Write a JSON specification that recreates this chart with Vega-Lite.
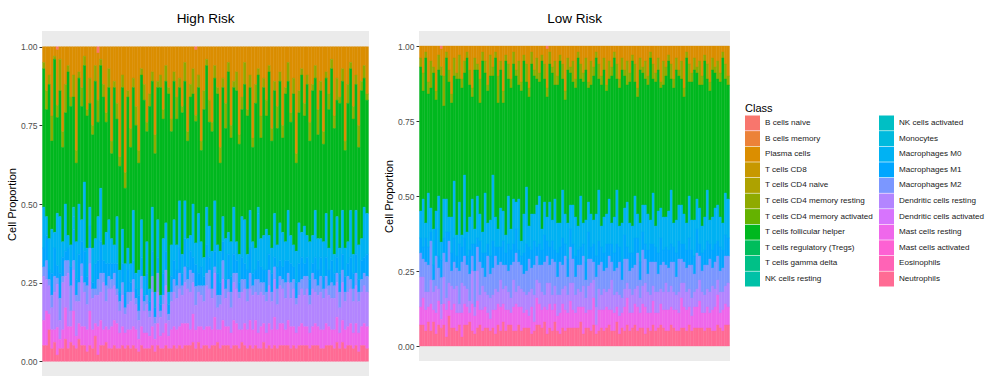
{
"$schema": "https://vega.github.io/schema/vega-lite/v6.json",
"padding": {"left": 6, "top": 11, "right": 2, "bottom": 0},
"spacing": 14,
"config": {
 "font": "Liberation Sans",
 "view": {"fill": "#EBEBEB", "stroke": null},
 "axis": {"grid": false, "domain": false, "tickColor": "#333333", "tickSize": 3, "labelPadding": 2, "labelFontSize": 8.5, "labelColor": "#4D4D4D", "titleFontSize": 11, "titleFontWeight": "normal", "titleColor": "#000000", "titlePadding": 3},
 "title": {"fontSize": 13.5, "fontWeight": "normal", "color": "#000000", "anchor": "middle", "frame": "group", "offset": 6},
 "legend": {"columns": 2, "symbolType": "square", "symbolSize": 225, "symbolStrokeWidth": 0, "symbolOpacity": 1, "rowPadding": 0.6, "columnPadding": 6, "labelFontSize": 8.1, "labelColor": "#1A1A1A", "labelOffset": 5, "labelLimit": 200, "titleFontSize": 11, "titleFontWeight": "normal", "titleColor": "#000000", "titlePadding": 1.5, "padding": 0}
},
"datasets": {
 "cls": [
  {"k":"a","name":"B cells naive","ord":0},
  {"k":"c","name":"Plasma cells","ord":2},
  {"k":"f","name":"T cells CD4 memory resting","ord":5},
  {"k":"h","name":"T cells follicular helper","ord":7},
  {"k":"m","name":"Monocytes","ord":12},
  {"k":"n","name":"Macrophages M0","ord":13},
  {"k":"o","name":"Macrophages M1","ord":14},
  {"k":"p","name":"Macrophages M2","ord":15},
  {"k":"q","name":"Dendritic cells resting","ord":16},
  {"k":"s","name":"Mast cells resting","ord":18},
  {"k":"v","name":"Neutrophils","ord":21}
 ],
 "hi": [
  {"id":1,"c":5,"f":2,"h":44,"n":13,"o":6,"p":3,"q":14,"s":8,"v":5},
  {"id":2,"c":14,"f":6,"h":34,"n":6,"o":8,"p":6,"q":10,"s":11,"v":5},
  {"id":3,"c":9,"f":3,"h":49,"n":10,"o":3,"p":2,"q":9,"s":5,"v":10},
  {"id":4,"c":22,"f":8,"h":28,"n":14,"o":7,"p":4,"q":7,"s":6,"v":4},
  {"id":5,"c":3,"f":1,"h":55,"n":5,"o":9,"p":5,"q":12,"s":4,"v":6},
  {"id":6,"a":1,"c":18,"f":4,"h":31,"n":17,"o":4,"p":2,"q":14,"s":9,"v":2},
  {"id":7,"c":4,"f":10,"h":40,"n":18,"o":8,"p":7,"q":6,"s":3,"v":4},
  {"id":8,"c":27,"f":5,"h":30,"n":5,"o":6,"p":2,"q":15,"s":6,"v":4},
  {"id":9,"c":12,"f":9,"h":29,"n":15,"o":3,"p":5,"q":10,"s":10,"v":7},
  {"id":10,"c":6,"f":2,"h":52,"n":4,"o":4,"p":4,"q":17,"s":7,"v":4},
  {"id":11,"c":16,"f":3,"h":44,"n":7,"o":6,"p":8,"q":5,"s":5,"v":6},
  {"id":12,"c":9,"f":7,"h":35,"m":3,"n":4,"o":10,"p":3,"q":13,"s":11,"v":5},
  {"id":13,"c":33,"f":4,"h":25,"n":12,"o":5,"p":2,"q":11,"s":4,"v":4},
  {"id":14,"c":8,"f":2,"h":40,"n":16,"o":9,"p":6,"q":7,"s":5,"v":7},
  {"id":15,"c":13,"f":6,"h":36,"n":7,"o":7,"p":4,"q":16,"s":6,"v":5},
  {"id":16,"c":3,"f":3,"h":37,"n":22,"o":10,"p":3,"q":11,"s":6,"v":5},
  {"id":17,"c":20,"f":2,"h":42,"n":9,"o":3,"p":6,"q":8,"s":7,"v":3},
  {"id":18,"c":10,"f":8,"h":33,"n":6,"o":7,"p":5,"q":15,"s":11,"v":5},
  {"id":19,"c":25,"f":3,"h":36,"n":11,"o":2,"p":3,"q":10,"s":6,"v":4},
  {"id":20,"c":6,"f":5,"h":50,"n":8,"o":8,"p":2,"q":9,"s":4,"v":8},
  {"id":21,"a":2,"c":15,"f":7,"h":30,"n":14,"o":6,"p":5,"q":10,"s":9,"v":2},
  {"id":22,"c":4,"f":2,"h":39,"n":17,"o":10,"p":6,"q":9,"s":8,"v":5},
  {"id":23,"c":12,"f":4,"h":47,"n":5,"o":4,"p":3,"q":15,"s":5,"v":5},
  {"id":24,"c":21,"f":3,"h":35,"n":10,"o":7,"p":5,"q":8,"s":5,"v":6},
  {"id":25,"c":7,"f":6,"h":42,"n":14,"o":4,"p":4,"q":13,"s":6,"v":4},
  {"id":26,"c":30,"f":4,"h":27,"n":8,"o":5,"p":3,"q":12,"s":7,"v":4},
  {"id":27,"c":11,"f":2,"h":50,"n":6,"o":3,"p":4,"q":11,"s":8,"v":5},
  {"id":28,"c":18,"f":5,"h":31,"n":15,"o":8,"p":2,"q":9,"s":8,"v":4},
  {"id":29,"c":35,"f":3,"h":33,"n":7,"o":3,"p":3,"q":7,"s":5,"v":4},
  {"id":30,"c":9,"f":4,"h":45,"n":11,"o":6,"p":4,"q":10,"s":6,"v":5},
  {"id":31,"c":40,"f":5,"h":24,"n":9,"o":5,"p":2,"q":6,"s":5,"v":4},
  {"id":32,"c":14,"f":2,"h":48,"n":7,"o":7,"p":4,"q":8,"s":5,"v":5},
  {"id":33,"c":26,"f":6,"h":37,"n":6,"o":3,"p":3,"q":9,"s":6,"v":4},
  {"id":34,"c":10,"f":3,"h":39,"n":16,"o":6,"p":4,"q":11,"s":6,"v":5},
  {"id":35,"c":19,"f":6,"h":47,"n":5,"o":3,"p":2,"q":8,"s":6,"v":4},
  {"id":36,"c":33,"f":4,"h":34,"n":8,"o":5,"p":3,"q":6,"s":4,"v":3},
  {"id":37,"c":7,"f":2,"h":46,"n":12,"o":6,"p":4,"q":12,"s":6,"v":5},
  {"id":38,"c":12,"f":5,"h":56,"n":6,"o":2,"p":3,"q":7,"s":5,"v":4},
  {"id":39,"c":24,"f":3,"h":35,"n":10,"o":7,"p":3,"q":9,"s":5,"v":4},
  {"id":40,"c":15,"f":4,"h":58,"n":4,"o":3,"p":2,"q":6,"s":4,"v":4},
  {"id":41,"c":8,"f":3,"h":40,"n":14,"o":8,"p":5,"q":11,"s":6,"v":5},
  {"id":42,"c":28,"f":6,"h":44,"n":5,"o":3,"p":2,"q":5,"s":4,"v":3},
  {"id":43,"c":11,"f":2,"h":42,"n":12,"o":5,"p":6,"q":10,"s":7,"v":5},
  {"id":44,"c":9,"f":4,"h":66,"n":3,"o":2,"p":2,"q":6,"s":4,"v":4},
  {"id":45,"c":20,"f":3,"h":38,"n":11,"o":7,"p":3,"q":9,"s":5,"v":4},
  {"id":46,"c":6,"f":5,"h":45,"n":9,"o":6,"p":5,"q":12,"s":7,"v":5},
  {"id":47,"c":13,"f":2,"h":63,"n":4,"o":3,"p":2,"q":5,"s":4,"v":4},
  {"id":48,"c":23,"f":4,"h":36,"n":10,"o":5,"p":3,"q":9,"s":6,"v":4},
  {"id":49,"c":8,"f":3,"h":44,"n":13,"o":6,"p":4,"q":11,"s":6,"v":5},
  {"id":50,"c":16,"f":7,"h":40,"n":8,"o":5,"p":4,"q":10,"s":6,"v":4},
  {"id":51,"c":10,"f":3,"h":36,"n":15,"o":8,"p":5,"q":12,"s":6,"v":5},
  {"id":52,"c":19,"f":2,"h":45,"n":6,"o":4,"p":3,"q":9,"s":8,"v":4},
  {"id":53,"c":5,"f":6,"h":38,"n":12,"o":9,"p":5,"q":13,"s":7,"v":5},
  {"id":54,"c":27,"f":3,"h":31,"n":9,"o":4,"p":3,"q":11,"s":7,"v":5},
  {"id":55,"c":12,"f":4,"h":44,"n":5,"o":6,"p":7,"q":12,"s":5,"v":5},
  {"id":56,"c":7,"f":8,"h":35,"n":17,"o":5,"p":3,"q":10,"s":9,"v":6},
  {"id":57,"a":1,"c":21,"f":2,"h":39,"n":7,"o":7,"p":6,"q":8,"s":6,"v":4},
  {"id":58,"c":9,"f":4,"h":40,"n":19,"o":4,"p":2,"q":11,"s":5,"v":6},
  {"id":59,"c":30,"f":3,"h":29,"n":8,"o":6,"p":3,"q":10,"s":7,"v":4},
  {"id":60,"c":14,"f":6,"h":47,"n":6,"o":3,"p":5,"q":9,"s":5,"v":5},
  {"id":61,"c":4,"f":2,"h":45,"n":12,"o":9,"p":4,"q":13,"s":6,"v":5},
  {"id":62,"c":17,"f":7,"h":33,"n":10,"o":4,"p":6,"q":12,"s":7,"v":4},
  {"id":63,"c":24,"f":3,"h":38,"n":6,"o":6,"p":3,"q":10,"s":5,"v":5},
  {"id":64,"c":6,"f":4,"h":39,"n":16,"o":5,"p":2,"q":14,"s":9,"v":5},
  {"id":65,"c":13,"f":2,"h":48,"n":9,"o":7,"p":4,"q":7,"s":4,"v":6},
  {"id":66,"c":32,"f":5,"h":28,"n":10,"o":4,"p":3,"q":8,"s":6,"v":4},
  {"id":67,"c":10,"f":3,"h":41,"n":8,"o":6,"p":6,"q":13,"s":8,"v":5},
  {"id":68,"c":18,"f":8,"h":35,"n":13,"o":3,"p":3,"q":9,"s":6,"v":5},
  {"id":69,"c":5,"f":3,"h":51,"n":7,"o":8,"p":4,"q":11,"s":6,"v":5},
  {"id":70,"c":25,"f":4,"h":33,"n":11,"o":5,"p":5,"q":8,"s":5,"v":4},
  {"id":71,"c":11,"f":2,"h":38,"n":15,"o":6,"p":3,"q":12,"s":8,"v":5},
  {"id":72,"c":8,"f":6,"h":48,"n":6,"o":4,"p":5,"q":11,"s":7,"v":5},
  {"id":73,"c":28,"f":3,"h":35,"n":9,"o":3,"p":2,"q":10,"s":6,"v":4},
  {"id":74,"c":16,"f":4,"h":34,"n":13,"o":7,"p":4,"q":12,"s":4,"v":6},
  {"id":75,"c":5,"f":7,"h":43,"n":14,"o":5,"p":3,"q":11,"s":7,"v":5},
  {"id":76,"c":20,"f":2,"h":44,"n":5,"o":6,"p":4,"q":9,"s":6,"v":4},
  {"id":77,"c":9,"f":4,"h":39,"n":12,"o":8,"p":5,"q":10,"s":8,"v":5},
  {"id":78,"c":29,"f":3,"h":30,"n":10,"o":4,"p":3,"q":11,"s":6,"v":4},
  {"id":79,"c":12,"f":6,"h":46,"n":7,"o":3,"p":4,"q":9,"s":8,"v":5},
  {"id":80,"c":7,"f":2,"h":42,"m":2,"n":15,"o":6,"p":5,"q":12,"s":5,"v":4},
  {"id":81,"c":22,"f":7,"h":32,"n":9,"o":5,"p":3,"q":11,"s":7,"v":4},
  {"id":82,"c":10,"f":3,"h":47,"n":11,"o":4,"p":4,"q":9,"s":6,"v":6},
  {"id":83,"c":17,"f":5,"h":36,"n":13,"o":7,"p":3,"q":10,"s":5,"v":4},
  {"id":84,"c":6,"f":2,"h":52,"n":6,"o":5,"p":5,"q":12,"s":7,"v":5},
  {"id":85,"c":26,"f":4,"h":34,"n":8,"o":6,"p":3,"q":9,"s":6,"v":4},
  {"id":86,"c":11,"f":3,"h":39,"n":14,"o":3,"p":4,"q":12,"s":9,"v":5},
  {"id":87,"c":19,"f":7,"h":37,"n":7,"o":7,"p":5,"q":8,"s":6,"v":4},
  {"id":88,"c":8,"f":3,"h":45,"n":12,"o":5,"p":3,"q":12,"s":7,"v":5},
  {"id":89,"c":25,"f":4,"h":30,"n":11,"o":4,"p":3,"q":11,"s":7,"v":5},
  {"id":90,"c":13,"f":2,"h":47,"n":6,"o":7,"p":5,"q":10,"s":5,"v":5},
  {"id":91,"c":5,"f":6,"h":41,"n":16,"o":4,"p":3,"q":12,"s":8,"v":5},
  {"id":92,"c":21,"f":3,"h":36,"n":9,"o":6,"p":5,"q":9,"s":7,"v":4},
  {"id":93,"c":10,"f":5,"h":48,"n":7,"o":4,"p":3,"q":12,"s":6,"v":5},
  {"id":94,"c":34,"f":3,"h":28,"n":10,"o":5,"p":2,"q":9,"s":5,"v":4},
  {"id":95,"c":14,"f":7,"h":35,"n":13,"o":6,"p":4,"q":10,"s":6,"v":5},
  {"id":96,"c":7,"f":2,"h":50,"n":8,"o":7,"p":3,"q":11,"s":7,"v":5},
  {"id":97,"c":18,"f":4,"h":35,"n":12,"o":4,"p":6,"q":10,"s":6,"v":5},
  {"id":98,"c":9,"f":3,"h":48,"n":7,"o":6,"p":4,"q":12,"s":6,"v":5},
  {"id":99,"c":24,"f":6,"h":32,"n":12,"o":5,"p":3,"q":9,"s":5,"v":4},
  {"id":100,"c":12,"f":2,"h":46,"n":9,"o":3,"p":5,"q":12,"s":6,"v":5},
  {"id":101,"c":6,"f":4,"h":42,"n":15,"o":7,"p":4,"q":10,"s":7,"v":5},
  {"id":102,"c":20,"f":8,"h":33,"n":10,"o":5,"p":3,"q":10,"s":6,"v":5},
  {"id":103,"c":11,"f":3,"h":47,"n":6,"o":6,"p":5,"q":12,"s":6,"v":4},
  {"id":104,"c":27,"f":4,"h":31,"n":11,"o":4,"p":3,"q":10,"s":6,"v":4},
  {"id":105,"c":8,"f":2,"h":43,"n":14,"o":6,"p":4,"q":11,"s":7,"v":5},
  {"id":106,"c":15,"f":5,"h":44,"n":7,"o":5,"p":3,"q":10,"s":6,"v":5},
  {"id":107,"c":4,"f":3,"h":45,"n":16,"o":7,"p":5,"q":10,"s":5,"v":5},
  {"id":108,"c":22,"f":4,"h":40,"n":6,"o":4,"p":4,"q":10,"s":6,"v":4},
  {"id":109,"c":10,"f":7,"h":37,"n":13,"o":5,"p":3,"q":11,"s":8,"v":6},
  {"id":110,"c":16,"f":2,"h":46,"n":8,"o":6,"p":5,"q":8,"s":5,"v":4},
  {"id":111,"c":7,"f":4,"h":41,"n":14,"o":5,"p":4,"q":12,"s":7,"v":6},
  {"id":112,"c":30,"f":3,"h":31,"n":9,"o":5,"p":3,"q":9,"s":6,"v":4},
  {"id":113,"c":12,"f":6,"h":44,"n":7,"o":4,"p":5,"q":11,"s":6,"v":5},
  {"id":114,"c":5,"f":2,"h":45,"n":15,"o":7,"p":3,"q":11,"s":7,"v":5},
  {"id":115,"c":19,"f":4,"h":43,"n":6,"o":5,"p":4,"q":10,"s":5,"v":4},
  {"id":116,"c":9,"f":3,"h":40,"n":14,"o":6,"p":4,"q":12,"s":7,"v":5},
  {"id":117,"c":25,"f":7,"h":31,"n":11,"o":4,"p":3,"q":10,"s":6,"v":3},
  {"id":118,"c":11,"f":3,"h":47,"n":7,"o":6,"p":4,"q":11,"s":6,"v":5},
  {"id":119,"c":6,"f":4,"h":41,"n":16,"o":5,"p":4,"q":12,"s":7,"v":5},
  {"id":120,"c":15,"f":2,"h":36,"n":13,"o":7,"p":5,"q":11,"s":7,"v":4}
 ],
 "lo": [
  {"id":1,"c":4,"f":3,"h":48,"n":9,"o":5,"p":8,"q":10,"s":6,"v":7},
  {"id":2,"c":9,"f":6,"h":36,"n":16,"o":4,"p":6,"q":7,"s":9,"v":7},
  {"id":3,"c":2,"f":2,"h":55,"n":5,"o":8,"p":10,"q":6,"s":7,"v":5},
  {"id":4,"c":12,"f":4,"h":33,"n":18,"o":6,"p":9,"q":5,"s":5,"v":8},
  {"id":5,"c":5,"f":9,"h":40,"n":8,"o":3,"p":13,"q":8,"s":9,"v":5},
  {"id":6,"c":7,"f":2,"h":52,"n":12,"o":5,"p":4,"q":6,"s":4,"v":8},
  {"id":7,"c":15,"f":3,"h":37,"n":6,"o":9,"p":10,"q":9,"s":7,"v":4},
  {"id":8,"c":3,"f":5,"h":42,"n":20,"o":4,"p":7,"q":4,"s":8,"v":7},
  {"id":9,"a":1,"c":6,"f":3,"h":56,"n":6,"o":6,"p":9,"q":5,"s":3,"v":6},
  {"id":10,"c":10,"f":10,"h":31,"n":13,"o":5,"p":8,"q":9,"s":7,"v":7},
  {"id":11,"c":2,"f":2,"h":47,"n":11,"o":10,"p":12,"q":4,"s":9,"v":3},
  {"id":12,"c":8,"f":4,"h":45,"n":5,"o":3,"p":14,"q":6,"s":5,"v":10},
  {"id":13,"c":16,"f":3,"h":38,"n":12,"o":6,"p":5,"q":8,"s":6,"v":6},
  {"id":14,"c":4,"f":6,"h":35,"n":19,"o":8,"p":9,"q":5,"s":8,"v":6},
  {"id":15,"c":9,"f":2,"h":52,"n":7,"o":4,"p":6,"q":9,"s":6,"v":5},
  {"id":16,"c":3,"f":8,"h":41,"n":14,"o":9,"p":11,"q":3,"s":4,"v":7},
  {"id":17,"c":11,"f":3,"h":49,"n":4,"o":5,"p":7,"q":10,"s":8,"v":3},
  {"id":18,"c":5,"f":4,"h":34,"n":21,"o":6,"p":10,"q":6,"s":7,"v":7},
  {"id":19,"c":2,"f":2,"h":58,"n":8,"o":3,"p":8,"q":6,"s":6,"v":7},
  {"id":20,"c":8,"f":5,"h":44,"n":11,"o":8,"p":9,"q":4,"s":3,"v":8},
  {"id":21,"c":14,"f":3,"h":34,"n":15,"o":4,"p":5,"q":11,"s":9,"v":5},
  {"id":22,"c":4,"f":4,"h":53,"n":5,"o":9,"p":12,"q":3,"s":6,"v":4},
  {"id":23,"c":6,"f":2,"h":42,"n":14,"o":3,"p":8,"q":10,"s":9,"v":6},
  {"id":24,"c":11,"f":8,"h":37,"n":9,"o":7,"p":11,"q":5,"s":5,"v":7},
  {"id":25,"c":2,"f":3,"h":57,"n":7,"o":5,"p":6,"q":8,"s":7,"v":5},
  {"id":26,"c":5,"f":4,"h":40,"n":20,"o":8,"p":5,"q":5,"s":7,"v":6},
  {"id":27,"c":13,"f":2,"h":44,"n":7,"o":4,"p":13,"q":6,"s":5,"v":6},
  {"id":28,"c":3,"f":7,"h":48,"n":12,"o":6,"p":8,"q":7,"s":4,"v":5},
  {"id":29,"c":7,"f":3,"h":33,"n":22,"o":9,"p":9,"q":5,"s":6,"v":6},
  {"id":30,"c":2,"f":2,"h":53,"n":10,"o":3,"p":11,"q":7,"s":8,"v":4},
  {"id":31,"c":10,"f":9,"h":42,"n":6,"o":6,"p":9,"q":4,"s":7,"v":7},
  {"id":32,"c":5,"f":3,"h":46,"n":13,"o":5,"p":6,"q":9,"s":8,"v":5},
  {"id":33,"c":15,"f":4,"h":36,"n":10,"o":8,"p":8,"q":5,"s":6,"v":8},
  {"id":34,"c":3,"f":2,"h":58,"n":6,"o":4,"p":7,"q":8,"s":7,"v":5},
  {"id":35,"c":6,"f":5,"h":39,"n":16,"o":9,"p":7,"q":6,"s":5,"v":7},
  {"id":36,"c":11,"f":3,"h":47,"n":7,"o":5,"p":11,"q":5,"s":4,"v":7},
  {"id":37,"c":2,"f":4,"h":45,"n":15,"o":6,"p":6,"q":9,"s":8,"v":5},
  {"id":38,"c":8,"f":2,"h":42,"n":9,"o":8,"p":13,"q":4,"s":9,"v":5},
  {"id":39,"c":5,"f":8,"h":38,"n":17,"o":4,"p":8,"q":7,"s":6,"v":7},
  {"id":40,"c":12,"f":3,"h":50,"n":5,"o":3,"p":8,"q":6,"s":8,"v":5},
  {"id":41,"c":3,"f":2,"h":51,"n":13,"o":7,"p":6,"q":7,"s":5,"v":6},
  {"id":42,"c":6,"f":6,"h":35,"n":19,"o":9,"p":8,"q":5,"s":6,"v":6},
  {"id":43,"c":14,"f":3,"h":43,"n":7,"o":4,"p":11,"q":8,"s":4,"v":6},
  {"id":44,"c":2,"f":4,"h":50,"n":12,"o":6,"p":7,"q":6,"s":9,"v":4},
  {"id":45,"c":8,"f":2,"h":46,"n":9,"o":8,"p":10,"q":9,"s":3,"v":5},
  {"id":46,"c":4,"f":7,"h":42,"n":14,"o":3,"p":8,"q":6,"s":9,"v":7},
  {"id":47,"c":9,"f":3,"h":38,"n":16,"o":7,"p":6,"q":7,"s":7,"v":7},
  {"id":48,"c":3,"f":2,"h":56,"n":7,"o":5,"p":9,"q":6,"s":6,"v":6},
  {"id":49,"c":6,"f":5,"h":41,"n":11,"o":9,"p":11,"q":4,"s":5,"v":8},
  {"id":50,"a":1,"c":13,"f":3,"h":40,"n":8,"o":5,"p":9,"q":9,"s":8,"v":4},
  {"id":51,"c":2,"f":4,"h":46,"n":15,"o":6,"p":6,"q":7,"s":8,"v":6},
  {"id":52,"c":7,"f":2,"h":49,"n":7,"o":6,"p":12,"q":5,"s":7,"v":5},
  {"id":53,"c":5,"f":8,"h":38,"n":17,"o":4,"p":8,"q":6,"s":6,"v":8},
  {"id":54,"c":10,"f":3,"h":46,"n":10,"o":8,"p":6,"q":7,"s":5,"v":5},
  {"id":55,"c":3,"f":2,"h":54,"n":8,"o":5,"p":11,"q":6,"s":7,"v":4},
  {"id":56,"c":6,"f":5,"h":37,"n":16,"o":9,"p":8,"q":5,"s":8,"v":6},
  {"id":57,"c":15,"f":3,"h":38,"n":10,"o":4,"p":10,"q":8,"s":7,"v":5},
  {"id":58,"c":4,"f":4,"h":51,"n":12,"o":6,"p":6,"q":6,"s":5,"v":6},
  {"id":59,"c":7,"f":2,"h":44,"n":8,"o":6,"p":12,"q":6,"s":9,"v":6},
  {"id":60,"c":5,"f":7,"h":41,"n":13,"o":5,"p":8,"q":9,"s":6,"v":6},
  {"id":61,"c":11,"f":3,"h":43,"n":13,"o":7,"p":6,"q":6,"s":5,"v":6},
  {"id":62,"c":2,"f":2,"h":56,"n":8,"o":5,"p":8,"q":6,"s":7,"v":6},
  {"id":63,"c":6,"f":5,"h":39,"n":17,"o":6,"p":9,"q":5,"s":5,"v":8},
  {"id":64,"c":9,"f":3,"h":47,"n":7,"o":4,"p":10,"q":7,"s":9,"v":4},
  {"id":65,"c":4,"f":4,"h":50,"n":14,"o":6,"p":6,"q":5,"s":5,"v":6},
  {"id":66,"c":12,"f":2,"h":38,"n":10,"o":9,"p":9,"q":8,"s":6,"v":6},
  {"id":67,"c":5,"f":8,"h":43,"n":11,"o":4,"p":8,"q":9,"s":7,"v":5},
  {"id":68,"c":7,"f":3,"h":48,"n":8,"o":6,"p":6,"q":6,"s":9,"v":7},
  {"id":69,"c":2,"f":2,"h":52,"n":14,"o":7,"p":10,"q":6,"s":3,"v":4},
  {"id":70,"c":6,"f":5,"h":37,"n":17,"o":8,"p":8,"q":7,"s":7,"v":5},
  {"id":71,"c":10,"f":3,"h":47,"n":7,"o":5,"p":11,"q":5,"s":6,"v":6},
  {"id":72,"c":4,"f":4,"h":49,"n":12,"o":6,"p":6,"q":7,"s":7,"v":5},
  {"id":73,"c":13,"f":2,"h":41,"n":10,"o":8,"p":8,"q":5,"s":7,"v":6},
  {"id":74,"c":5,"f":6,"h":40,"n":15,"o":4,"p":11,"q":7,"s":5,"v":7},
  {"id":75,"c":7,"f":3,"h":49,"n":7,"o":6,"p":6,"q":10,"s":7,"v":5},
  {"id":76,"c":2,"f":2,"h":53,"n":12,"o":6,"p":8,"q":6,"s":6,"v":5},
  {"id":77,"c":6,"f":5,"h":37,"n":18,"o":8,"p":8,"q":5,"s":5,"v":8},
  {"id":78,"c":11,"f":3,"h":46,"n":7,"o":5,"p":11,"q":7,"s":6,"v":4},
  {"id":79,"c":4,"f":4,"h":51,"n":13,"o":6,"p":6,"q":5,"s":5,"v":6},
  {"id":80,"c":8,"f":2,"h":44,"n":9,"o":8,"p":10,"q":6,"s":8,"v":5},
  {"id":81,"c":5,"f":8,"h":39,"n":15,"o":4,"p":8,"q":5,"s":9,"v":7},
  {"id":82,"c":9,"f":3,"h":47,"n":10,"o":6,"p":6,"q":8,"s":6,"v":5},
  {"id":83,"c":3,"f":2,"h":55,"n":9,"o":5,"p":9,"q":6,"s":5,"v":6},
  {"id":84,"c":6,"f":6,"h":38,"n":14,"o":9,"p":8,"q":5,"s":7,"v":7},
  {"id":85,"c":14,"f":3,"h":39,"n":8,"o":5,"p":11,"q":7,"s":8,"v":5},
  {"id":86,"c":4,"f":4,"h":51,"n":13,"o":6,"p":6,"q":5,"s":5,"v":6},
  {"id":87,"c":7,"f":2,"h":44,"n":9,"o":6,"p":12,"q":6,"s":8,"v":6},
  {"id":88,"c":5,"f":6,"h":42,"n":13,"o":5,"p":8,"q":8,"s":9,"v":4},
  {"id":89,"c":10,"f":3,"h":43,"n":12,"o":8,"p":6,"q":7,"s":5,"v":6},
  {"id":90,"c":2,"f":2,"h":54,"n":8,"o":6,"p":11,"q":6,"s":6,"v":5},
  {"id":91,"c":6,"f":5,"h":38,"n":17,"o":6,"p":8,"q":5,"s":8,"v":7},
  {"id":92,"c":9,"f":3,"h":48,"n":7,"o":5,"p":10,"q":7,"s":6,"v":5},
  {"id":93,"c":4,"f":4,"h":47,"n":14,"o":7,"p":6,"q":7,"s":5,"v":6},
  {"id":94,"c":12,"f":2,"h":40,"n":10,"o":9,"p":8,"q":5,"s":7,"v":7},
  {"id":95,"c":5,"f":8,"h":44,"n":11,"o":4,"p":10,"q":6,"s":6,"v":6},
  {"id":96,"c":7,"f":3,"h":47,"n":10,"o":6,"p":6,"q":9,"s":7,"v":5},
  {"id":97,"c":3,"f":2,"h":50,"n":13,"o":6,"p":8,"q":6,"s":7,"v":5},
  {"id":98,"c":6,"f":5,"h":37,"n":18,"o":6,"p":8,"q":7,"s":6,"v":7},
  {"id":99,"c":11,"f":3,"h":45,"n":8,"o":5,"p":10,"q":6,"s":6,"v":6},
  {"id":100,"c":4,"f":4,"h":50,"n":11,"o":8,"p":6,"q":5,"s":7,"v":5},
  {"id":101,"c":8,"f":2,"h":43,"n":12,"o":6,"p":11,"q":7,"s":6,"v":5},
  {"id":102,"c":5,"f":6,"h":42,"n":13,"o":5,"p":8,"q":5,"s":10,"v":6},
  {"id":103,"c":14,"f":3,"h":39,"n":10,"o":6,"p":7,"q":8,"s":7,"v":6},
  {"id":104,"c":2,"f":2,"h":55,"n":9,"o":6,"p":8,"q":6,"s":7,"v":5},
  {"id":105,"c":6,"f":6,"h":38,"n":14,"o":9,"p":8,"q":6,"s":6,"v":7},
  {"id":106,"c":9,"f":3,"h":46,"n":10,"o":5,"p":11,"q":6,"s":5,"v":5},
  {"id":107,"c":4,"f":4,"h":50,"n":12,"o":6,"p":6,"q":5,"s":7,"v":6},
  {"id":108,"c":7,"f":2,"h":42,"n":10,"o":8,"p":12,"q":6,"s":7,"v":6},
  {"id":109,"c":5,"f":8,"h":41,"n":12,"o":4,"p":8,"q":7,"s":9,"v":6},
  {"id":110,"c":10,"f":3,"h":47,"n":9,"o":6,"p":7,"q":7,"s":5,"v":6},
  {"id":111,"c":3,"f":2,"h":52,"n":11,"o":5,"p":10,"q":6,"s":6,"v":5},
  {"id":112,"c":6,"f":5,"h":37,"n":17,"o":8,"p":8,"q":6,"s":7,"v":6},
  {"id":113,"c":12,"f":3,"h":43,"n":8,"o":5,"p":11,"q":7,"s":5,"v":6},
  {"id":114,"c":4,"f":4,"h":49,"n":11,"o":6,"p":6,"q":8,"s":7,"v":5},
  {"id":115,"c":7,"f":2,"h":45,"n":12,"o":6,"p":9,"q":6,"s":8,"v":5},
  {"id":116,"c":5,"f":6,"h":42,"n":12,"o":5,"p":8,"q":5,"s":10,"v":7},
  {"id":117,"c":9,"f":3,"h":45,"n":10,"o":8,"p":7,"q":7,"s":5,"v":6},
  {"id":118,"c":2,"f":2,"h":55,"n":9,"o":6,"p":8,"q":6,"s":7,"v":5},
  {"id":119,"c":6,"f":5,"h":38,"n":14,"o":7,"p":10,"q":6,"s":7,"v":7},
  {"id":120,"c":10,"f":3,"h":38,"n":13,"o":6,"p":9,"q":8,"s":6,"v":7}
 ]
},
"resolve": {"scale": {"color": "shared"}},
"hconcat": [
 {
  "title": {"text": "High Risk"},
  "width": 327,
  "height": 346,
  "data": {"name": "hi"},
  "transform": [
   {"fold": ["a","c","f","h","m","n","o","p","q","s","v"], "as": ["k","val"]},
   {"filter": "datum.val > 0"},
   {"lookup": "k", "from": {"data": {"name": "cls"}, "key": "k", "fields": ["name","ord"]}}
  ],
  "mark": {"type": "bar", "stroke": {"expr": "scale('color', datum.name)"}, "strokeWidth": 0.4},
  "encoding": {
   "x": {"field": "id", "type": "ordinal", "axis": null, "scale": {"paddingInner": 0, "paddingOuter": 0.2}},
   "y": {"field": "val", "type": "quantitative", "stack": "normalize", "title": "Cell Proportion", "scale": {"domain": [-0.05, 1.05], "nice": false, "zero": false}, "axis": {"values": [0, 0.25, 0.5, 0.75, 1], "labelExpr": "format(datum.value, '.2f')"}},
   "order": {"field": "ord", "type": "quantitative", "sort": "descending"},
   "color": {"field": "name", "type": "nominal", "title": "Class",
    "scale": {"domain": ["B cells naive","B cells memory","Plasma cells","T cells CD8","T cells CD4 naive","T cells CD4 memory resting","T cells CD4 memory activated","T cells follicular helper","T cells regulatory (Tregs)","T cells gamma delta","NK cells resting","NK cells activated","Monocytes","Macrophages M0","Macrophages M1","Macrophages M2","Dendritic cells resting","Dendritic cells activated","Mast cells resting","Mast cells activated","Eosinophils","Neutrophils"],
     "range": ["#F8766D","#EC8239","#DB8E00","#C79800","#AEA200","#8FAA00","#64B200","#00B81F","#00BD5C","#00C087","#00C1A7","#00BFC4","#00BADE","#00B2F3","#00A6FF","#7B97FF","#B385FF","#D774FD","#EF67EB","#FD61D3","#FF63B6","#FF6B94"]},
    "legend": {"orient": "none", "legendX": 703, "legendY": 72}}
  }
 },
 {
  "title": {"text": "Low Risk"},
  "width": 311,
  "height": 330,
  "data": {"name": "lo"},
  "transform": [
   {"fold": ["a","c","f","h","m","n","o","p","q","s","v"], "as": ["k","val"]},
   {"filter": "datum.val > 0"},
   {"lookup": "k", "from": {"data": {"name": "cls"}, "key": "k", "fields": ["name","ord"]}}
  ],
  "mark": {"type": "bar", "stroke": {"expr": "scale('color', datum.name)"}, "strokeWidth": 0.4},
  "encoding": {
   "x": {"field": "id", "type": "ordinal", "axis": null, "scale": {"paddingInner": 0, "paddingOuter": 0.2}},
   "y": {"field": "val", "type": "quantitative", "stack": "normalize", "title": "Cell Proportion", "scale": {"domain": [-0.05, 1.05], "nice": false, "zero": false}, "axis": {"values": [0, 0.25, 0.5, 0.75, 1], "labelExpr": "format(datum.value, '.2f')"}},
   "order": {"field": "ord", "type": "quantitative", "sort": "descending"},
   "color": {"field": "name", "type": "nominal", "title": "Class"}
  }
 }
]
}
